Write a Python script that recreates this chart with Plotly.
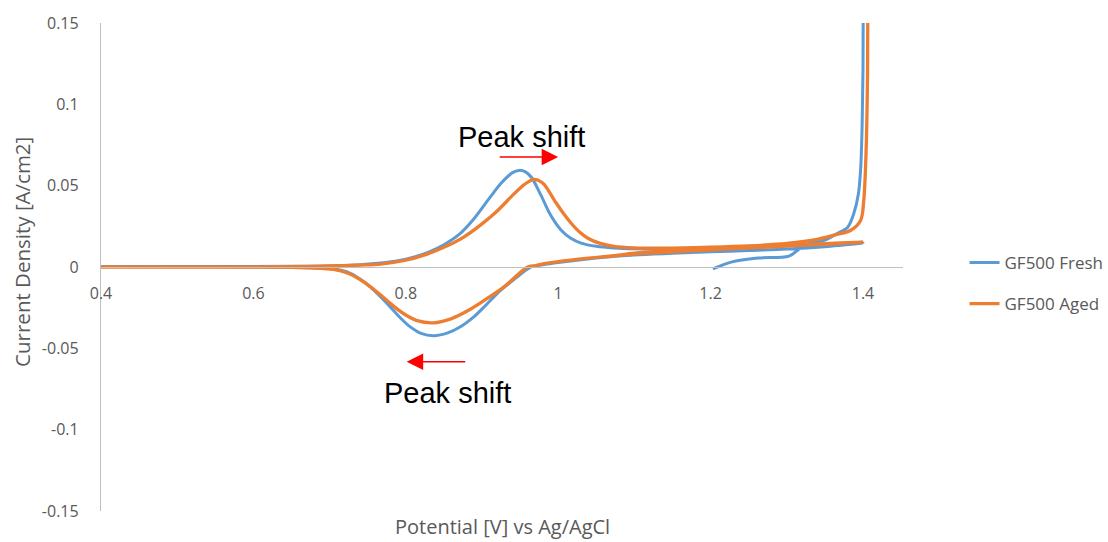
import plotly.graph_objects as go

# ---------------- data ----------------
# GF500 Fresh: start segment -> reverse scan (1.4 -> 0.4) -> forward scan (0.4 -> 1.4, spike)
fresh_x = [1.203, 1.227, 1.262, 1.303, 1.319, 1.335, 1.36, 1.38, 1.40,
           1.35, 1.30, 1.25, 1.20, 1.15, 1.10, 1.06, 1.03, 1.00, 0.982, 0.972,
           0.964, 0.955, 0.945, 0.925, 0.905, 0.89, 0.87, 0.855, 0.837, 0.82,
           0.805, 0.794, 0.775, 0.754, 0.74, 0.728, 0.715, 0.70, 0.68, 0.65,
           0.60, 0.50, 0.40,
           0.50, 0.60, 0.65, 0.70, 0.74, 0.767, 0.79, 0.81, 0.83, 0.85,
           0.87, 0.89, 0.91, 0.925, 0.94, 0.9486, 0.957, 0.965, 0.977, 0.99,
           1.004, 1.017, 1.03, 1.05, 1.073, 1.10, 1.15, 1.20, 1.25, 1.30,
           1.33, 1.35, 1.367, 1.38, 1.388, 1.394, 1.397, 1.399, 1.40, 1.401]
fresh_y = [-0.0012, 0.003, 0.0055, 0.0067, 0.0116, 0.0122, 0.0130, 0.0138, 0.0147,
           0.0125, 0.0110, 0.0101, 0.0093, 0.0084, 0.0074, 0.0060, 0.0045, 0.0027, 0.0015, 0.0007,
           0.0, -0.0028, -0.0065, -0.0141, -0.0235, -0.0303, -0.0372, -0.0405, -0.0422, -0.0408,
           -0.0365, -0.0318, -0.0222, -0.0125, -0.0075, -0.0040, -0.0020, -0.0009, -0.0004, -0.0002,
           0.0, 0.0002, 0.0003,
           0.0003, 0.0003, 0.0004, 0.0006, 0.0014, 0.0024, 0.0038, 0.0060, 0.0092, 0.0137,
           0.0200, 0.0300, 0.0425, 0.0515, 0.0580, 0.0594, 0.0585, 0.0550, 0.0445, 0.0320,
           0.0226, 0.0175, 0.0147, 0.0127, 0.0117, 0.0112, 0.0111, 0.0115, 0.0122, 0.0132,
           0.0145, 0.0165, 0.0208, 0.0245, 0.0330, 0.0450, 0.0610, 0.0900, 0.1220, 0.2500]

# GF500 Aged: start segment -> reverse scan -> forward scan (spike)
aged_x = [1.062, 1.10, 1.15, 1.20, 1.25, 1.30, 1.35, 1.40,
          1.35, 1.30, 1.25, 1.20, 1.15, 1.10, 1.06, 1.03, 1.00, 0.98, 0.97,
          0.96, 0.952, 0.945, 0.929, 0.903, 0.88, 0.86, 0.836, 0.815, 0.80,
          0.785, 0.765, 0.745, 0.735, 0.725, 0.715, 0.705, 0.68, 0.65, 0.60,
          0.50, 0.40,
          0.50, 0.60, 0.65, 0.70, 0.74, 0.767, 0.80, 0.824, 0.85, 0.876,
          0.90, 0.921, 0.94, 0.955, 0.968, 0.98, 0.995, 1.006, 1.017, 1.028,
          1.039, 1.055, 1.073, 1.10, 1.139, 1.20, 1.25, 1.30, 1.34, 1.362,
          1.384, 1.397, 1.401, 1.404, 1.406, 1.407]
aged_y = [0.0062, 0.0085, 0.0100, 0.0112, 0.0122, 0.0132, 0.0143, 0.0153,
          0.0140, 0.0128, 0.0117, 0.0105, 0.0093, 0.0080, 0.0064, 0.0050, 0.0033, 0.0019, 0.0009,
          0.0, -0.0027, -0.0055, -0.0122, -0.0205, -0.0272, -0.0317, -0.0343, -0.0330, -0.0295,
          -0.0245, -0.0165, -0.0092, -0.0063, -0.0040, -0.0024, -0.0014, -0.0006, -0.0002, 0.0,
          0.0, 0.0,
          0.0, 0.0, 0.0002, 0.0006, 0.0012, 0.0018, 0.0042, 0.0073, 0.0121, 0.0184,
          0.0265, 0.0349, 0.0440, 0.0505, 0.0539, 0.0515, 0.0410, 0.0335, 0.0269, 0.0215,
          0.0177, 0.0145, 0.0127, 0.0118, 0.0116, 0.0122, 0.0130, 0.0145, 0.0170, 0.0196,
          0.0226, 0.0288, 0.0410, 0.0700, 0.1200, 0.2500]

series_names = ["GF500 Fresh", "GF500 Aged"]
series_colors = ["#5B9BD5", "#ED7D31"]

x_tickvals = [0.4, 0.6, 0.8, 1.0, 1.2, 1.4]
x_ticktext = ["0.4", "0.6", "0.8", "1", "1.2", "1.4"]
y_tickvals = [-0.15, -0.1, -0.05, 0, 0.05, 0.1, 0.15]
y_ticktext = ["-0.15", "-0.1", "-0.05", "0", "0.05", "0.1", "0.15"]

x_title = "Potential [V] vs Ag/AgCl"
y_title = "Current Density [A/cm2]"
note_text = "Peak shift"

# ---------------- figure ----------------
fig = go.Figure()
for name, xs, ys, col, w in [(series_names[0], fresh_x, fresh_y, series_colors[0], 3.0),
                             (series_names[1], aged_x, aged_y, series_colors[1], 3.3)]:
    fig.add_trace(go.Scatter(x=xs, y=ys, mode="lines", name=name, legendgroup=name,
                             line=dict(color=col, width=w, shape="spline", smoothing=0.9),
                             hoverinfo="skip"))

grey = "#595959"
axis_col = "#BFBFBF"
font_fam = "Open Sans"

fig.update_layout(
    width=1108, height=542,
    margin=dict(l=101, r=205, t=23, b=31, autoexpand=False),
    paper_bgcolor="white", plot_bgcolor="white",
    font=dict(family=font_fam, size=16, color=grey),
    showlegend=True,
    legend=dict(x=1.0767, y=0.545, xanchor="left", yanchor="top",
                font=dict(size=17, color=grey), tracegroupgap=16,
                bgcolor="rgba(0,0,0,0)"),
    xaxis=dict(range=[0.4, 1.4525], anchor="free", position=0.5,
               showline=True, linecolor=axis_col, linewidth=1.3,
               showgrid=False, zeroline=False, ticks="",
               tickvals=x_tickvals, ticktext=x_ticktext,
               tickfont=dict(size=16, color=grey), ticklabelstandoff=12),
    yaxis=dict(range=[-0.15, 0.15], showline=True, linecolor=axis_col, linewidth=1.3,
               showgrid=False, zeroline=False, ticks="",
               tickvals=y_tickvals, ticktext=y_ticktext,
               tickfont=dict(size=16, color=grey), ticklabelstandoff=18),
)

annotations = [
    dict(text=y_title, xref="paper", yref="paper", x=-0.0985, y=0.531,
         textangle=-90, showarrow=False, xanchor="center", yanchor="middle",
         font=dict(size=20.5, color=grey, family=font_fam)),
    dict(text=x_title, xref="paper", yref="paper", x=0.5, y=-0.0635,
         showarrow=False, xanchor="center", yanchor="bottom",
         font=dict(size=20, color=grey, family=font_fam)),
    dict(text=note_text, xref="paper", yref="paper", x=0.5237, y=0.767,
         showarrow=False, xanchor="center", yanchor="middle",
         font=dict(size=29, color="black", family="Liberation Sans")),
    dict(text=note_text, xref="paper", yref="paper", x=0.432, y=0.242,
         showarrow=False, xanchor="center", yanchor="middle",
         font=dict(size=29, color="black", family="Liberation Sans")),
    dict(text="", x=1.0, y=0.0676, xref="x", yref="y", ax=-60, ay=0,
         showarrow=True, arrowhead=2, arrowsize=2.2, arrowwidth=1.5, arrowcolor="#FF0000"),
    dict(text="", x=0.8012, y=-0.0582, xref="x", yref="y", ax=60, ay=0,
         showarrow=True, arrowhead=2, arrowsize=2.2, arrowwidth=1.5, arrowcolor="#FF0000"),
]
fig.update_layout(annotations=annotations)

fig.write_html("out.html")
